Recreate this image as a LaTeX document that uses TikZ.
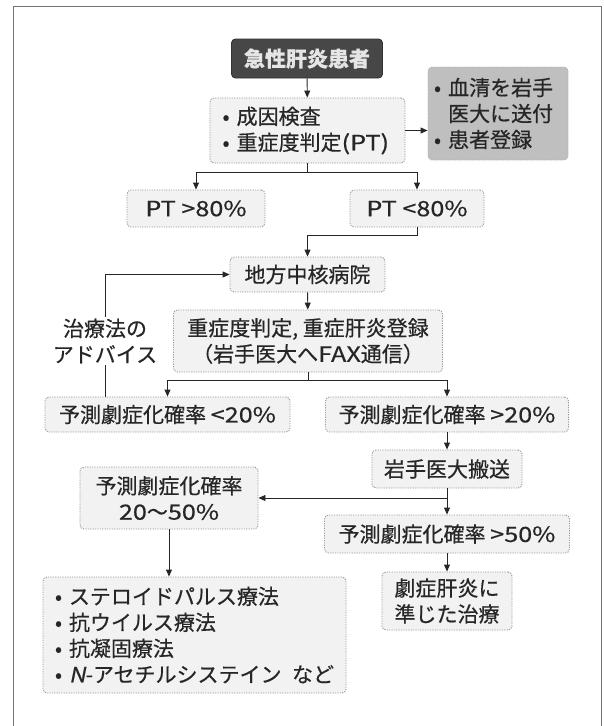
\documentclass[tikz,border=0pt]{standalone}
\usepackage{fontspec}
\setmainfont{Noto Sans CJK JP}[FakeBold=0.5]
\newfontfamily\lat{Noto Sans CJK JP}[FakeStretch=1.2,FakeBold=0.5]
\newfontfamily\latit{Noto Sans CJK JP}[FakeStretch=1.1,FakeSlant=0.2,FakeBold=0.5]
\newcommand{\blt}{\makebox[14pt][l]{•}}
\usetikzlibrary{arrows.meta,calc}
\begin{document}
\begin{tikzpicture}[x=1pt,y=-1pt,
  every node/.style={font=\fontsize{21}{26}\selectfont, text=black!85},
  box/.style={draw=black!40, dash pattern=on 1.2pt off 1.2pt, line width=0.9pt, fill=black!5, rounded corners=4pt, inner sep=0pt},
  titlebox/.style={box, solid, draw=black!80, fill=black!72, text=black!10},
  greybox/.style={box, fill=black!25, draw=black!30},
  arr/.style={-{Triangle[length=7pt,width=6pt]}, line width=0.9pt, draw=black!85},
  ln/.style={line width=0.9pt, draw=black!85}]
\useasboundingbox (0,0) rectangle (603,726);
\draw[black!55, line width=0.7pt] (13,726) -- (13,6) -- (601,6) -- (601,726);

\node[titlebox, minimum width=151pt, minimum height=39pt] (title) at (307,58.5) {\bfseries 急性肝炎患者};
\node[box, minimum width=195pt, minimum height=65pt, align=left, text width=170pt] (box2) at (307.5,130.5) {• 成因検査\\• 重症度判定{\lat (PT)}};
\node[greybox, minimum width=140pt, minimum height=93pt, align=left, text width=128pt] (grey) at (498,113.5) {• 血清を岩手\\\hphantom{• }医大に送付\\• 患者登録};
\node[box, minimum width=138pt, minimum height=37pt] (pt1) at (196,208.5) {\lat PT >80\%};
\node[box, minimum width=134pt, minimum height=37pt] (pt2) at (417,208.5) {\lat PT <80\%};
\node[box, minimum width=155pt, minimum height=35pt] (chiho) at (307.5,274.5) {地方中核病院};
\node[box, minimum width=269pt, minimum height=62pt, align=center] (jusho) at (308,341) {重症度判定, 重症肝炎登録\\（岩手医大へ{\lat FAX}通信）};
\node[align=center, inner sep=2pt] (adv) at (105,341) {治療法の\\アドバイス};
\node[box, minimum width=245pt, minimum height=35pt] (lt20) at (167.5,414.5) {予測劇症化確率 {\lat <20\%}};
\node[box, minimum width=243pt, minimum height=35pt] (gt20) at (447,414.5) {予測劇症化確率 {\lat >20\%}};
\node[box, minimum width=150pt, minimum height=38pt] (iwate) at (447,469) {岩手医大搬送};
\node[box, minimum width=178pt, minimum height=62pt, align=center] (r2050) at (169,498) {予測劇症化確率\\{\lat 20}〜{\lat 50\%}};
\node[box, minimum width=245pt, minimum height=38pt] (gt50) at (447,534) {予測劇症化確率 {\lat >50\%}};
\node[box, minimum width=130pt, minimum height=58pt, align=center] (geki) at (447,601) {劇症肝炎に\\準じた治療};
\node[box, minimum width=303pt, minimum height=116pt, align=left] (tx) at (194.5,635) {\blt ステロイドパルス療法\\\blt 抗ウイルス療法\\\blt 抗凝固療法\\\blt {\latit N}-アセチルシステイン\hspace{0.5em}など};

\coordinate (br1) at (307.5,172);
\coordinate (br2) at (308,380);
\draw[arr] (title) -- (box2);
\draw[arr] (box2.east) -- (box2.east -| grey.west);
\draw[ln] (box2.south) -- (br1);
\draw[arr] (br1) -| (pt1.north);
\draw[arr] (br1) -| (pt2.north);
\draw[arr] (pt2.south) -- ++(0,8) -| (chiho.north);
\draw[arr] (adv.north) |- (chiho.west);
\draw[ln] (adv.south) -- (adv.south |- lt20.north);
\draw[arr] (chiho) -- (jusho);
\draw[ln] (jusho.south) -- (br2);
\draw[arr] (br2) -| (lt20.north);
\draw[arr] (br2) -| (gt20.north);
\draw[arr] (gt20) -- (iwate);
\draw[arr] (iwate) -- (gt50);
\draw[arr] (iwate.south |- r2050.east) -- (r2050.east);
\draw[arr] (gt50) -- (geki);
\draw[arr] (r2050.south) -- (r2050.south |- tx.north);
\end{tikzpicture}
\end{document}
